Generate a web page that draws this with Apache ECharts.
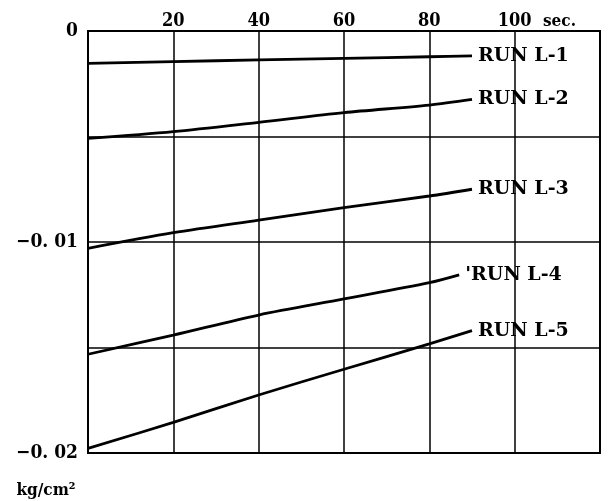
<!DOCTYPE html>
<html>
<head>
<meta charset="utf-8">
<title>RUN L</title>
<script src="https://cdn.jsdelivr.net/npm/echarts@6/dist/echarts.min.js"></script>
<style>
  html, body { margin: 0; padding: 0; background: #fff; }
</style>
</head>
<body>
<div id="main" style="width: 611px;height:501px;"></div>
<script type="text/javascript">
// time axis (sec.) and readings (kg/cm2)
var timeSec = [0, 20, 40, 60, 80, 90];
var timeL4 = [0, 20, 40, 60, 80, 87];
var runNames = ['RUN L-1', 'RUN L-2', 'RUN L-3', "'RUN L-4", 'RUN L-5'];
var runL1 = [-0.00153, -0.00145, -0.00137, -0.00130, -0.00122, -0.00118];
var runL2 = [-0.00509, -0.00477, -0.00433, -0.00387, -0.00351, -0.00324];
var runL3 = [-0.01030, -0.00956, -0.00896, -0.00837, -0.00782, -0.00750];
var runL4 = [-0.01532, -0.01441, -0.01346, -0.01270, -0.01193, -0.01156];
var runL5 = [-0.01978, -0.01855, -0.01725, -0.01603, -0.01483, -0.01420];
var yTickLabels = { '0': '0', '-0.01': '\u22120. 01', '-0.02': '\u22120. 02' };

function pairs(t, v) {
  return t.map(function (x, i) { return [x, v[i]]; });
}

var myChart = echarts.init(document.getElementById('main'));
var serif = 'DejaVu Serif Condensed';

function run(name, data) {
  return {
    name: name,
    type: 'line',
    data: data,
    smooth: 0.3,
    symbol: 'none',
    lineStyle: { color: '#000', width: 2.8 },
    endLabel: {
      show: true,
      formatter: name,
      distance: 6,
      color: '#000',
      fontFamily: 'DejaVu Serif',
      fontWeight: 'bold',
      fontSize: 19
    }
  };
}

var option = {
  backgroundColor: '#fff',
  animation: false,
  grid: {
    left: 88, right: 11, top: 31, bottom: 48,
    show: true, borderColor: '#000', borderWidth: 2
  },
  xAxis: {
    type: 'value',
    position: 'top',
    min: 0, max: 120, interval: 20,
    name: 'sec.',
    nameLocation: 'end',
    nameGap: -57,
    nameTextStyle: {
      color: '#000', fontFamily: serif, fontWeight: 'bold', fontSize: 17,
      verticalAlign: 'bottom', padding: [0, 0, 1, 0]
    },
    axisLine: { show: true, lineStyle: { color: '#000', width: 2 } },
    axisTick: { show: false },
    axisLabel: {
      margin: 1,
      color: '#000', fontFamily: serif, fontWeight: 'bold', fontSize: 18,
      formatter: function (v) { return (v > 0 && v <= 100) ? String(v) : ''; }
    },
    splitLine: { show: true, lineStyle: { color: '#000', width: 1.5 } }
  },
  yAxis: {
    type: 'value',
    min: -0.02, max: 0, interval: 0.005,
    name: 'kg/cm\u00b2',
    nameLocation: 'start',
    nameGap: 29,
    nameTextStyle: {
      color: '#000', fontFamily: serif, fontWeight: 'bold', fontSize: 17,
      align: 'center', padding: [0, 84, 0, 0]
    },
    axisLine: { show: true, lineStyle: { color: '#000', width: 2 } },
    axisTick: { show: false },
    axisLabel: {
      margin: 10,
      color: '#000', fontFamily: serif, fontWeight: 'bold', fontSize: 19,
      formatter: function (v) {
        var k = String(Math.round(v * 1000) / 1000);
        return yTickLabels[k] || '';
      }
    },
    splitLine: { show: true, lineStyle: { color: '#000', width: 1.5 } }
  },
  series: [
    run(runNames[0], pairs(timeSec, runL1)),
    run(runNames[1], pairs(timeSec, runL2)),
    run(runNames[2], pairs(timeSec, runL3)),
    run(runNames[3], pairs(timeL4, runL4)),
    run(runNames[4], pairs(timeSec, runL5))
  ]
};

myChart.setOption(option);
</script>
</body>
</html>
